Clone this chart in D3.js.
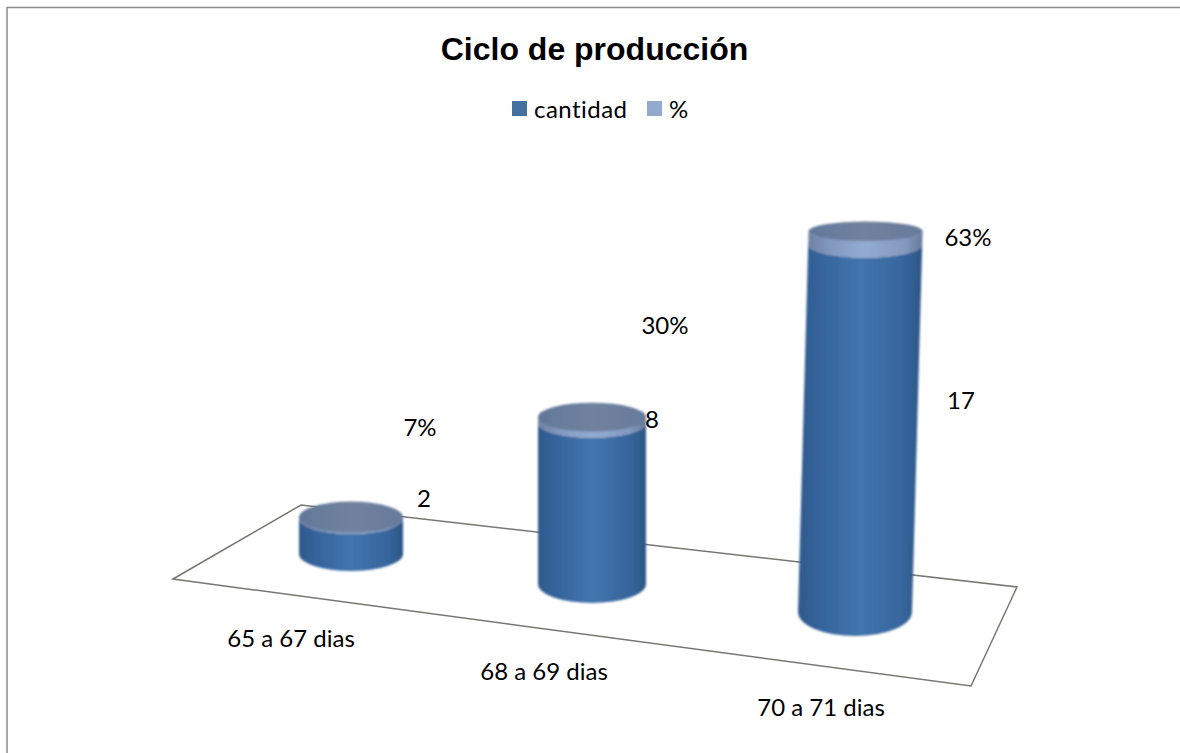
<!DOCTYPE html>
<html><head><meta charset="utf-8">
<script src="https://cdnjs.cloudflare.com/ajax/libs/d3/7.8.5/d3.min.js"></script>
<style>html,body{margin:0;padding:0;background:#fff}svg{display:block}text{font-variant-ligatures:none}</style></head>
<body><svg id="c" width="1180" height="753"></svg>
<script>
const categories = ["65 a 67 dias","68 a 69 dias","70 a 71 dias"];
const cantidad = [2,8,17];
const porcentaje = [7,30,63];
const dataLabelsPct = ["7%","30%","63%"];
const titleText = "Ciclo de producción";
const legendItems = ["cantidad","%"];

const svg = d3.select("#c");
// perspective projection, one scale per property along the category axis
const cx = d3.scaleLinear().domain([0,1,2]).range([351,592,855]);
const rx = d3.scaleLinear().domain([0,1,2]).range([52,54,57]);
const baseY = d3.scaleLinear().domain([0,1,2]).range([554,584,612]);
const unit = d3.scaleLinear().domain([0,1,2]).range([17.8,20.1,21.6]);
const lean = d3.scaleLinear().domain([0,1,2]).range([0,0,0.6]);
const ry = d3.scaleLinear().domain([230,245,417,516,554,584,612]).range([9.5,13,14.5,15.5,17,19,24]);

const defs = svg.append("defs");
const soft = defs.append("filter").attr("id","soft").attr("x","-10%").attr("y","-10%").attr("width","120%").attr("height","120%");
soft.append("feGaussianBlur").attr("stdDeviation",1);
const softer = defs.append("filter").attr("id","softer").attr("x","-10%").attr("y","-10%").attr("width","120%").attr("height","120%");
softer.append("feGaussianBlur").attr("stdDeviation",0.6);
const g1 = defs.append("linearGradient").attr("id","body");
[[0,"#2f5a8c"],[0.15,"#34629a"],[0.5,"#4275ae"],[0.85,"#36659c"],[1,"#2c5686"]]
  .forEach(d=>g1.append("stop").attr("offset",d[0]).attr("stop-color",d[1]));
const g2 = defs.append("linearGradient").attr("id","band");
[[0,"#6d82a3"],[0.2,"#8399bf"],[0.5,"#94abd3"],[0.85,"#8399bf"],[1,"#64799a"]]
  .forEach(d=>g2.append("stop").attr("offset",d[0]).attr("stop-color",d[1]));
const g3 = defs.append("linearGradient").attr("id","cap");
[[0,"#62789a"],[0.5,"#71829f"],[1,"#677a9a"]]
  .forEach(d=>g3.append("stop").attr("offset",d[0]).attr("stop-color",d[1]));

// chart frame: top and left edges are the only ones in the picture
const frame = d3.line();
svg.append("path").attr("d",frame([[7,753],[7,7.5],[1180,7.5]]))
  .attr("fill","none").attr("stroke","#8c8c8c").attr("stroke-width",1.5);

// floor
const floor = [[173,579],[301,505],[1017,587],[971,686]];
svg.append("path").attr("d",d3.line().curve(d3.curveLinearClosed)(floor))
  .attr("fill","none").attr("stroke","#777772").attr("stroke-width",1.5).attr("filter","url(#softer)");

function cyl(g,x0,y0,x1,y1,r,fill){
  const b=ry(y0),t=ry(y1);
  return g.append("path").attr("fill",fill)
    .attr("d",`M${x1-r},${y1} L${x0-r},${y0} A${r},${b} 0 0 0 ${x0+r},${y0} L${x1+r},${y1} A${r},${t} 0 0 1 ${x1-r},${y1} Z`);
}
categories.forEach((c,i)=>{
  const g=svg.append("g").attr("filter","url(#soft)");
  const r=rx(i), b=baseY(i), u=unit(i), l=lean(i);
  const y1=b-cantidad[i]*u, y2=y1-porcentaje[i]/100*u;
  const x0=cx(i), x1=x0+cantidad[i]*l, x2=x1+porcentaje[i]/100*l;
  cyl(g,x0,b,x1,y1,r,"url(#body)");
  // a fuller top ellipse under the band closes the seam between the two stacks
  g.append("ellipse").attr("cx",x1).attr("cy",y1).attr("rx",r).attr("ry",ry(y1)).attr("fill","url(#band)");
  cyl(g,x1,y1,x2,y2,r,"url(#band)");
  g.append("ellipse").attr("cx",x2).attr("cy",y2).attr("rx",r).attr("ry",ry(y2)).attr("fill","url(#cap)");
});

const font="Lato, 'Noto Sans', sans-serif";
function label(t,x,y,a){
  return svg.append("text").attr("x",x).attr("y",y).attr("text-anchor",a||"middle")
    .attr("font-family",font).attr("font-size",24).attr("fill","#000").text(t);
}
svg.append("text").attr("x",594.5).attr("y",60).attr("text-anchor","middle")
  .attr("font-family","'Liberation Sans',Arial,sans-serif").attr("font-weight","bold")
  .attr("font-size",32).attr("fill","#000").text(titleText);

// legend
const legendColors=["#44709f","#94a9cf"], sw=[512,647], lx=[534,669];
legendItems.forEach((t,i)=>{
  svg.append("rect").attr("x",sw[i]).attr("y",101).attr("width",15).attr("height",15).attr("fill",legendColors[i]);
  const tx=label(t,lx[i],118,"start");
  if(i===0) tx.attr("textLength",93);
});

const catPos=[[291,647],[544,680],[821,716]];
categories.forEach((c,i)=>label(c,catPos[i][0],catPos[i][1]));
const valPos=[[424,507],[652,428],[961,409]];
cantidad.forEach((v,i)=>label(v,valPos[i][0],valPos[i][1]));
const pctPos=[[420,436],[665,334],[968,246]];
dataLabelsPct.forEach((v,i)=>label(v,pctPos[i][0],pctPos[i][1]));
</script></body></html>
